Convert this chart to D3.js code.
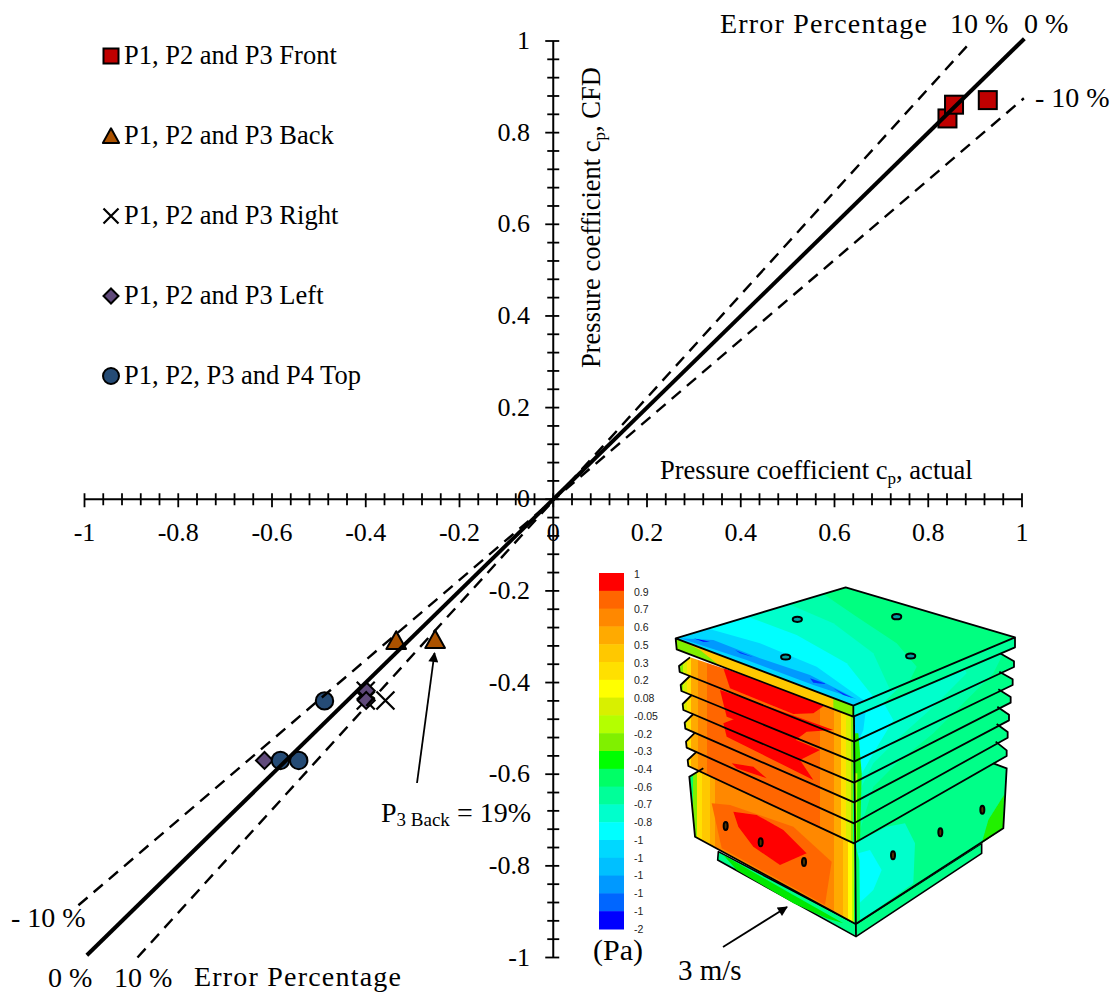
<!DOCTYPE html>
<html><head><meta charset="utf-8">
<script src="https://cdn.jsdelivr.net/npm/d3@7/dist/d3.min.js"></script>
<style>html,body{margin:0;background:#fff}svg{display:block}text{font-family:"Liberation Serif",serif;fill:#000}</style>
</head><body><svg id="c" width="1113" height="993"></svg>
<script>
// ---------- data ----------
const frontX=[0.841,0.855,0.927], frontY=[0.831,0.861,0.871];
const backX=[-0.335,-0.252], backY=[-0.311,-0.309];
const rightX=[-0.400,-0.400,-0.358], rightY=[-0.418,-0.439,-0.439];
const leftX=[-0.399,-0.399,-0.616], leftY=[-0.418,-0.439,-0.570];
const topX=[-0.488,-0.582,-0.543], topY=[-0.440,-0.570,-0.570];
const legendLabels=["P1, P2 and P3 Front","P1, P2 and P3 Back","P1, P2 and P3 Right","P1, P2 and P3 Left","P1, P2, P3 and P4 Top"];
const xTicks=[-1,-0.8,-0.6,-0.4,-0.2,0,0.2,0.4,0.6,0.8,1];
const yTicks=[1,0.8,0.6,0.4,0.2,0,-0.2,-0.4,-0.6,-0.8,-1];
const zeroLine=[[-0.995,-0.995],[1.005,1.005]];
const plusLine=[[-0.887,-1],[0.889,0.996]];
const minusLine=[[-1.013,-0.886],[1.004,0.875]];
const scaleLabels=["1","0.9","0.7","0.6","0.5","0.3","0.2","0.08","-0.05","-0.2","-0.3","-0.4","-0.6","-0.7","-0.8","-1","-1","-1","-1","-1","-2"];
const scaleColors=["#ff0000","#ff6600","#ff8800","#ffaa00","#ffc800","#ffe000","#ffff00","#d8f000","#b4ff00","#80f000","#00ff00","#00ff66","#00ff99","#00ffcc","#00ffff","#00d8ff","#00c0ff","#0099ff","#0066ff","#0000ff"];

// ---------- scales ----------
const svg=d3.select("#c");
const x=d3.scaleLinear().domain([-1,1]).range([84.5,1022]);
const y=d3.scaleLinear().domain([-1,1]).range([957.5,41]);
const tickFs=26, noteFs=28, labelFs=26.5;

// ---------- inset (CFD picture), in reference-crop coordinates ----------
const Z=([a,b])=>[580+a/3,560+b/3];
const P=a=>"M"+a.map(p=>Z(p).join(",")).join("L")+"Z";
const O=a=>"M"+a.map(p=>Z(p).join(",")).join("L");
const defs=svg.append("defs");
defs.append("filter").attr("id","soft").append("feGaussianBlur").attr("stdDeviation",0.45);
const inset=svg.append("g").attr("filter","url(#soft)");
function band(id,x0,x1,stops){
  const g=defs.append("linearGradient").attr("id",id).attr("gradientUnits","userSpaceOnUse")
    .attr("x1",580+x0/3).attr("y1",0).attr("x2",580+x1/3).attr("y2",0);
  stops.forEach(([o,c],i)=>{
    g.append("stop").attr("offset",o).attr("stop-color",c);
    if(i<stops.length-1) g.append("stop").attr("offset",stops[i+1][0]).attr("stop-color",c);
  });
}
band("gFin",297,825,[[0,"#80f000"],[0.02,"#d8f000"],[0.045,"#ffe000"],[0.07,"#ffaa00"],[0.11,"#ff8800"],[0.16,"#ff6600"],[0.8,"#ff8800"],[0.88,"#ffaa00"],[0.92,"#ffe000"],[0.95,"#d8f000"],[0.975,"#80f000"],[0.99,"#00ff66"]]);
band("gBox",330,828,[[0,"#00ff66"],[0.02,"#80f000"],[0.04,"#ffe000"],[0.07,"#ffc800"],[0.12,"#ffaa00"],[0.15,"#ff8800"],[0.87,"#ffaa00"],[0.92,"#ffc800"],[0.95,"#ffff00"],[0.975,"#b4ff00"],[0.99,"#00ff66"]]);

const finsLeft=[[297,318],[302,375],[308,432],[314,488],[318,545],[323,600]];
const finsLow=[545,605,668,727,790,850];
const finsRight=[[1302,318],[1298,372],[1292,425],[1287,478],[1283,530],[1280,585]];
const finsTopLeft=[[330,292],[330,348],[335,405],[340,462],[345,518],[350,575]];
const finsTopRight=[[1260,280],[1258,335],[1255,388],[1252,440],[1250,492],[1247,545]];
const finTop=i=>i===0?455:finsLow[i-1]-4;

// base plinth
inset.append("path").attr("d",P([[415,875],[413,900],[828,1130],[1205,880],[1205,850],[828,1092]])).attr("fill","#00ff88").attr("stroke","#000").attr("stroke-width",1.6).attr("stroke-linejoin","round");
inset.append("path").attr("d",P([[430,885],[640,1005],[790,1090],[740,1075],[640,1030],[470,930]])).attr("fill","#00e800");
// box
inset.append("path").attr("d",P([[328,650],[345,830],[827,1092],[822,850],[370,625]])).attr("fill","url(#gBox)");
inset.append("path").attr("d",P([[395,730],[450,735],[640,800],[755,905],[735,1035],[425,865]])).attr("fill","#ff6600");
inset.append("path").attr("d",P([[460,755],[530,765],[610,810],[680,880],[600,915],[520,860],[475,800]])).attr("fill","#ff0000");
inset.append("path").attr("d",P([[822,850],[827,1092],[1205,850],[1270,805],[1280,625],[1240,610]])).attr("fill","#00ff88");
inset.append("path").attr("d",P([[824,850],[828,1088],[900,1040],[1000,970],[1005,850],[975,790],[920,800]])).attr("fill","#00ffcc");
inset.append("path").attr("d",P([[835,880],[838,1030],[880,990],[905,930],[870,870]])).attr("fill","#00ffff");
inset.append("path").attr("d",P([[825,850],[828,1090],[840,1080],[838,900]])).attr("fill","#00ff66");
inset.append("path").attr("d",P([[1205,850],[1270,805],[1272,705],[1225,780]])).attr("fill","#20f000");

// fin fills, bottom one first
const finR=i=>[[822,finsLow[i]],[finsRight[i][0],finsRight[i][1]+3],[finsRight[i][0],finsRight[i][1]-14],finsTopRight[i],[822,finTop(i)]];
for(let i=5;i>=0;i--){
  const [lx,ly]=finsLeft[i], low=finsLow[i];
  inset.append("path").attr("d",P([[lx,ly],[lx+2,ly+18],[822,low],[822,finTop(i)],finsTopLeft[i]])).attr("fill","url(#gFin)");
  inset.append("path").attr("d",P(finR(i))).attr("fill","#00ff88");
}
// contour areas on the right fins
defs.append("clipPath").attr("id","rightFins").append("path").attr("d",d3.range(6).map(i=>P(finR(i))).join(""));
const rc=inset.append("g").attr("clip-path","url(#rightFins)");
[["#00ffaa",[[822,440],[1290,240],[1240,340],[1150,430],[1060,520],[950,610],[880,680],[825,860]]],
 ["#00ffcc",[[822,440],[1140,300],[1160,340],[1060,440],[960,530],[880,610],[835,700],[825,860]]],
 ["#00ffff",[[822,440],[900,410],[940,480],[880,580],[840,650],[828,740]]],
 ["#00d8ff",[[822,440],[860,430],[850,510],[828,560]]],
 ["#20f000",[[822,520],[835,520],[845,640],[840,850],[824,860]]],
 ["#b4ff00",[[822,640],[832,640],[830,860],[822,860]]]
].forEach(([c,p])=>rc.append("path").attr("d",P(p)).attr("fill",c));
// red patches on the left fins
[[[430,325],[740,432],[700,460],[640,462],[450,385]],
 [[420,390],[510,420],[760,510],[680,515],[640,545],[440,470]],
 [[430,490],[480,470],[720,570],[660,600],[700,660],[560,590],[440,530]],
 [[455,610],[520,620],[560,655],[470,625]]].forEach(p=>inset.append("path").attr("d",P(p)).attr("fill","#ff0000"));
// fin edges
for(let i=0;i<6;i++){
  const [lx,ly]=finsLeft[i], low=finsLow[i], [rx,ry]=finsRight[i];
  inset.append("path").attr("d",O([finsTopLeft[i],[lx,ly],[lx+2,ly+18],[822,low],[rx,ry+3],[rx,ry-14],finsTopRight[i]])).attr("fill","none").attr("stroke","#000").attr("stroke-width",1.8).attr("stroke-linejoin","round");
}
// roof
const roof=[[287,235],[797,82],[1305,232],[820,437]];
inset.append("path").attr("d",P([[287,235],[290,268],[820,470],[1305,262],[1305,232],[820,437]])).attr("fill","#00ff99");
inset.append("path").attr("d",P([[287,235],[290,268],[820,470],[820,437]])).attr("fill","#ffc800");
inset.append("path").attr("d",P([[287,235],[290,268],[420,318],[360,270]])).attr("fill","#80f000");
inset.append("path").attr("d",P([[820,437],[820,470],[760,445],[760,412]])).attr("fill","#80f000");
inset.append("path").attr("d",P([[820,437],[820,470],[900,438],[960,380]])).attr("fill","#00ffcc");
defs.append("clipPath").attr("id","roofClip").append("path").attr("d",P(roof));
const rg=inset.append("g").attr("clip-path","url(#roofClip)");
rg.append("path").attr("d",P(roof)).attr("fill","#00ff80");
[["#00ffaa",[[280,235],[720,95],[830,170],[950,250],[1010,320],[970,400],[820,450]]],
 ["#00ffcc",[[280,235],[620,130],[760,190],[880,280],[935,400],[820,450]]],
 ["#00ffff",[[280,235],[490,165],[650,225],[800,310],[880,410],[820,450]]],
 ["#00d8ff",[[280,235],[380,205],[540,250],[710,320],[850,420],[820,450]]],
 ["#0099ff",[[300,235],[400,240],[540,295],[690,345],[830,418],[700,375],[500,300]]],
 ["#0000ff",[[340,235],[390,245],[370,245]]],
 ["#0033ff",[[465,270],[520,292],[480,280]]],
 ["#0033ff",[[690,355],[740,372],[700,368]]],
 ["#0033ff",[[760,385],[820,415],[790,405]]]
].forEach(([c,p])=>rg.append("path").attr("d",P(p)).attr("fill",c));
inset.append("path").attr("d",P(roof)+O([[287,235],[290,268],[820,470],[1305,262],[1305,232]])+O([[820,437],[820,470]])).attr("fill","none").attr("stroke","#000").attr("stroke-width",1.8).attr("stroke-linejoin","round");
// box edges
inset.append("path").attr("d",O([[370,625],[328,650],[345,830],[827,1092],[1270,805],[1280,625],[1240,610]])+O([[822,470],[828,1130]])).attr("fill","none").attr("stroke","#000").attr("stroke-width",1.8);
// pressure taps
[[652,178],[950,170],[617,291],[992,288]].forEach(p=>{
  const [cx,cy]=Z(p);
  inset.append("ellipse").attr("cx",cx).attr("cy",cy).attr("rx",4.6).attr("ry",2.6).attr("fill","#00a0a0").attr("stroke","#000").attr("stroke-width",2);
});
[[437,798],[542,847],[672,906],[939,886],[1081,817],[1207,749]].forEach(p=>{
  const [cx,cy]=Z(p);
  inset.append("ellipse").attr("cx",cx).attr("cy",cy).attr("rx",2).attr("ry",4).attr("fill","#553300").attr("stroke","#000").attr("stroke-width",2);
});

// colour scale
const sy=d3.scaleBand().domain(d3.range(scaleColors.length)).range([573,929]);
svg.append("g").selectAll("rect").data(scaleColors).join("rect")
  .attr("x",599).attr("width",25).attr("y",(d,i)=>sy(i)).attr("height",sy.bandwidth()+0.5).attr("fill",d=>d);
const syL=d3.scaleLinear().domain([0,scaleLabels.length-1]).range([574.5,929]);
svg.append("g").selectAll("text").data(scaleLabels).join("text")
  .attr("x",634).attr("y",(d,i)=>syL(i)+3.5).style("font-family","Liberation Sans, sans-serif").style("font-size","10.5px").style("fill","#222").text(d=>d);
svg.append("text").attr("x",593).attr("y",960).style("font-size","30px").text("(Pa)");
svg.append("text").attr("x",678).attr("y",980).style("font-size","29px").text("3 m/s");

// ---------- axes ----------
const ax=svg.append("g");
ax.append("line").attr("x1",x(-1)).attr("x2",x(1)).attr("y1",y(0)).attr("y2",y(0)).attr("stroke","#000").attr("stroke-width",2);
ax.append("line").attr("y1",y(1)).attr("y2",y(-1)).attr("x1",x(0)).attr("x2",x(0)).attr("stroke","#000").attr("stroke-width",2);
d3.range(0,51).forEach(i=>{
  const v=-1+i*0.04, major=i%5===0;
  ax.append("line").attr("x1",x(v)).attr("x2",x(v)).attr("y1",y(0)-6).attr("y2",y(0)+(major?8:6)).attr("stroke","#000").attr("stroke-width",1.8);
  ax.append("line").attr("x1",x(0)-(major?8:6)).attr("x2",x(0)+6).attr("y1",y(v)).attr("y2",y(v)).attr("stroke","#000").attr("stroke-width",1.8);
});
xTicks.forEach(v=>svg.append("text").attr("x",x(v)).attr("y",541).attr("text-anchor","middle").style("font-size",tickFs+"px").text(v));
yTicks.forEach(v=>svg.append("text").attr("x",530).attr("y",y(v)+8).attr("text-anchor","end").style("font-size",tickFs+"px").text(v));

// axis titles
const yt=svg.append("text").attr("transform","translate(600,368) rotate(-90)").style("font-size",labelFs+"px");
yt.append("tspan").text("Pressure coefficient c");
yt.append("tspan").attr("dy",5).style("font-size","17px").text("p");
yt.append("tspan").attr("dy",-5).text(", CFD");
const xt=svg.append("text").attr("x",660).attr("y",479).style("font-size",labelFs+"px");
xt.append("tspan").text("Pressure coefficient c");
xt.append("tspan").attr("dy",5).style("font-size","17px").text("p");
xt.append("tspan").attr("dy",-5).text(", actual");

// annotations
const annos=[["Error Percentage",720,33],["10 %",950,33],["0 %",1024,33],["- 10 %",1035,107],["- 10 %",11,927],["0 %",48,986.5],["10 %",114,986.5],["Error Percentage",194,986]];
annos.forEach(([t,a,b])=>svg.append("text").attr("x",a).attr("y",b).style("font-size",noteFs+"px").style("letter-spacing",t.length>6?"1.2px":"0").text(t));
const p3=svg.append("text").attr("x",381).attr("y",822).style("font-size",noteFs+"px");
p3.append("tspan").text("P");
p3.append("tspan").attr("dy",4).style("font-size","19px").text("3 Back");
p3.append("tspan").attr("dy",-4).text(" = 19%");

// arrows
defs.append("marker").attr("id","ah").attr("viewBox","0 0 10 10").attr("refX",9).attr("refY",5).attr("markerWidth",11).attr("markerHeight",10).attr("markerUnits","userSpaceOnUse").attr("orient","auto")
  .append("path").attr("d","M0,0L10,5L0,10Z").attr("fill","#000");
svg.append("line").attr("x1",417).attr("y1",783).attr("x2",434.5).attr("y2",653).attr("stroke","#000").attr("stroke-width",1.8).attr("marker-end","url(#ah)");
svg.append("line").attr("x1",723).attr("y1",947).attr("x2",787).attr("y2",907).attr("stroke","#000").attr("stroke-width",1.8).attr("marker-end","url(#ah)");

// ---------- markers ----------
function squareM(g,cx,cy,s){g.append("rect").attr("x",cx-s/2).attr("y",cy-s/2).attr("width",s).attr("height",s).attr("fill","#c00000").attr("stroke","#000").attr("stroke-width",2);}
function triM(g,cx,cy,s){g.append("path").attr("d",`M${cx},${cy-s*0.62}L${cx+s*0.58},${cy+s*0.42}L${cx-s*0.58},${cy+s*0.42}Z`).attr("fill","#ab5200").attr("stroke","#000").attr("stroke-width",2).attr("stroke-linejoin","round");}
function crossM(g,cx,cy,s){g.append("path").attr("d",`M${cx-s},${cy-s}L${cx+s},${cy+s}M${cx+s},${cy-s}L${cx-s},${cy+s}`).attr("stroke","#000").attr("stroke-width",2.2).attr("fill","none");}
function diaM(g,cx,cy,s){g.append("path").attr("d",`M${cx},${cy-s}L${cx+s},${cy}L${cx},${cy+s}L${cx-s},${cy}Z`).attr("fill","#604a7b").attr("stroke","#000").attr("stroke-width",2);}
function circM(g,cx,cy,r){g.append("circle").attr("cx",cx).attr("cy",cy).attr("r",r).attr("fill","#254b75").attr("stroke","#000").attr("stroke-width",2);}
const mk=svg.append("g");
rightX.forEach((v,i)=>crossM(mk,x(v),y(rightY[i]),9));
frontX.forEach((v,i)=>squareM(mk,x(v),y(frontY[i]),18));
backX.forEach((v,i)=>triM(mk,x(v),y(backY[i]),17));
leftX.forEach((v,i)=>diaM(mk,x(v),y(leftY[i]),8.5));
topX.forEach((v,i)=>circM(mk,x(v),y(topY[i]),8.7));

// ---------- reference lines, over the markers ----------
const line=d3.line().x(d=>x(d[0])).y(d=>y(d[1]));
[plusLine,minusLine].forEach(l=>svg.append("path").attr("d",line(l)).attr("fill","none").attr("stroke","#000").attr("stroke-width",2.4).attr("stroke-dasharray","12 8"));
svg.append("path").attr("d",line(zeroLine)).attr("fill","none").attr("stroke","#000").attr("stroke-width",4);

// ---------- legend ----------
const legY=d3.scalePoint().domain(legendLabels).range([56,376]);
const drawers=[(g,c)=>squareM(g,111,c,15),(g,c)=>triM(g,111,c+1,14),(g,c)=>crossM(g,111,c,7.5),(g,c)=>diaM(g,111,c,7.5),(g,c)=>circM(g,111,c,8)];
legendLabels.forEach((t,i)=>{
  drawers[i](svg,legY(t));
  svg.append("text").attr("x",124).attr("y",legY(t)+8).style("font-size",labelFs+"px").text(t);
});
</script></body></html>
